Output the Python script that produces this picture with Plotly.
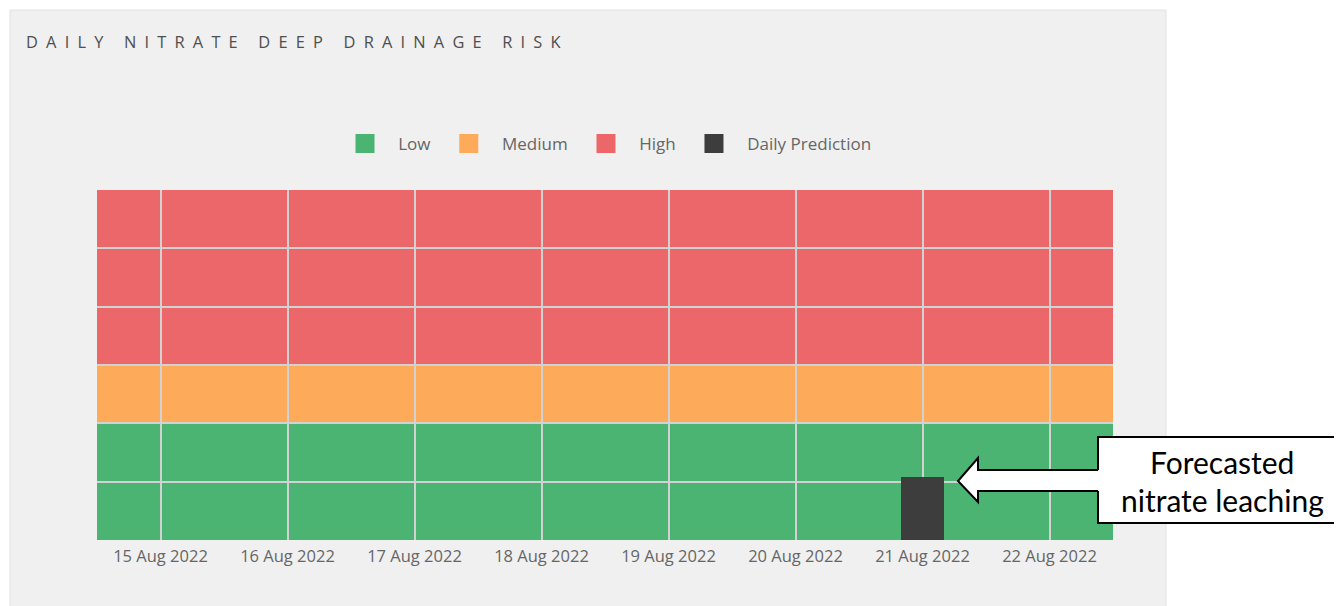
#!/usr/bin/env python
# coding: utf-8

import plotly.graph_objects as go

# --- data ------------------------------------------------------------------
dates = [
    "2022-08-15", "2022-08-16", "2022-08-17", "2022-08-18",
    "2022-08-19", "2022-08-20", "2022-08-21", "2022-08-22",
]
risk_levels = ["Low", "Medium", "High"]
band_bottom = [0, 2, 3]
band_top = [2, 3, 6]
prediction_dates = ["2022-08-21"]
prediction_values = [1.08]

title_text = "DAILY NITRATE DEEP DRAINAGE RISK"
callout_lines = ["Forecasted", "nitrate leaching"]

# --- styling ----------------------------------------------------------------
band_colors = {"Low": "#4bb473", "Medium": "#fdaa5a", "High": "#ec6769"}
prediction_color = "#3d3d3d"
panel_color = "#f0f0f0"
grid_color = "#d2d2d2"
text_color = "#666666"
FONT = "Open Sans"
PAD = "\u00a0" * 3  # extra room around legend labels

# the page body has an 8px margin, so the figure is drawn smaller and shifted
OFF = 8
W, H = 1342 - OFF, 606 - OFF
L, T = 97 - OFF, 190 - OFF
R, B = W - (1113 - OFF), H - (540 - OFF)
plot_w, plot_h = W - L - R, H - T - B


def px_x(px):
    # page pixel -> paper x
    return (px - OFF - L) / plot_w


def px_y(py):
    # page pixel -> paper y
    return (H - B - (py - OFF)) / plot_h


fig = go.Figure()

# grey card behind the chart
fig.add_shape(
    type="rect", xref="paper", yref="paper",
    x0=px_x(10), x1=px_x(1166), y0=px_y(620), y1=px_y(10),
    fillcolor=panel_color, line=dict(color="#e2e2e2", width=1), layer="below",
)

# risk bands + legend entries
for level, lo, hi in zip(risk_levels, band_bottom, band_top):
    fig.add_shape(
        type="rect", xref="x domain", yref="y", x0=0, x1=1, y0=lo, y1=hi,
        fillcolor=band_colors[level], line_width=0, layer="below",
    )
    fig.add_trace(
        go.Scatter(
            x=[None], y=[None], mode="markers", name=PAD + level + PAD,
            marker=dict(symbol="square", size=16, color=band_colors[level],
                        line=dict(width=3, color=band_colors[level])),
        )
    )

fig.add_trace(
    go.Bar(
        x=prediction_dates, y=prediction_values, width=0.346 * 86400000,
        marker=dict(color=prediction_color, line_width=0),
        legendgroup="pred", showlegend=False, hoverinfo="x+y",
    )
)
fig.add_trace(
    go.Scatter(
        x=[None], y=[None], mode="markers", name=PAD + "Daily Prediction",
        legendgroup="pred",
        marker=dict(symbol="square", size=16, color=prediction_color,
                    line=dict(width=3, color=prediction_color)),
    )
)

# callout box with block arrow
fig.add_shape(
    type="rect", xref="paper", yref="paper",
    x0=px_x(1098), x1=px_x(1346), y0=px_y(523), y1=px_y(437),
    fillcolor="white", line=dict(color="black", width=2), layer="above",
)
arrow = [(1101, 470), (978, 470), (978, 458), (958, 481),
         (978, 502), (978, 491), (1101, 491)]


def path(points, close):
    d = "M " + " L ".join(f"{px_x(x):.5f},{px_y(y):.5f}" for x, y in points)
    return d + (" Z" if close else "")


fig.add_shape(type="path", xref="paper", yref="paper", path=path(arrow, True),
              fillcolor="white", line_width=0, layer="above")
outline = [(1098, 470)] + arrow[1:-1] + [(1098, 491)]
fig.add_shape(type="path", xref="paper", yref="paper", path=path(outline, False),
              fillcolor="rgba(0,0,0,0)", line=dict(color="black", width=2),
              layer="above")

for line, ypix in zip(callout_lines, [462, 500]):
    fig.add_annotation(
        text=line, xref="paper", yref="paper", x=px_x(1222), y=px_y(ypix),
        xanchor="center", yanchor="middle", showarrow=False,
        font=dict(family="Lato", size=30, color="black"),
    )

fig.update_layout(
    width=W, height=H,
    margin=dict(l=L, r=R, t=T, b=B, pad=0),
    paper_bgcolor="white", plot_bgcolor="rgba(0,0,0,0)",
    title=dict(
        text="\u2002".join(title_text),
        x=(26 - OFF) / W, xanchor="left", xref="container",
        y=1 - (42 - OFF) / H, yanchor="middle", yref="container",
        font=dict(family=FONT, size=16.4, color="#4f4f4f"),
    ),
    legend=dict(
        orientation="h", x=px_x(345), xanchor="left",
        y=px_y(144), yanchor="middle",
        font=dict(family=FONT, size=17, color=text_color),
        bgcolor="rgba(0,0,0,0)",
    ),
    bargap=0,
    showlegend=True,
)
fig.update_xaxes(
    type="date", range=["2022-08-14 12:00", "2022-08-22 12:00"],
    tick0=dates[0], dtick=86400000, tickformat="%d %b %Y",
    showgrid=True, gridcolor=grid_color, gridwidth=2,
    ticks="outside", ticklen=1, tickcolor="rgba(0,0,0,0)",
    tickfont=dict(family=FONT, size=16.5, color=text_color),
    zeroline=False, showline=False, fixedrange=True,
)
fig.update_yaxes(
    range=[0, 6], dtick=1, showgrid=True, gridcolor=grid_color, gridwidth=1.5,
    showticklabels=False, zeroline=False, showline=False, fixedrange=True,
)

fig.write_html("out.html")
